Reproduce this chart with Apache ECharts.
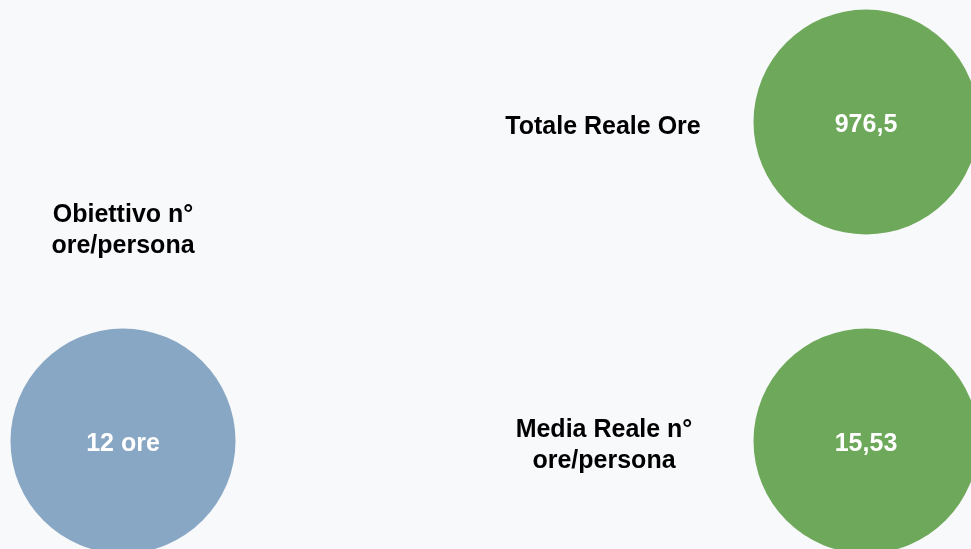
<!DOCTYPE html>
<html>
<head>
<meta charset="utf-8">
<script src="https://cdn.jsdelivr.net/npm/echarts@6/dist/echarts.min.js"></script>
<style>
  html, body { margin: 0; padding: 0; background: #f8f9fb; }
  #chart { width: 971px; height: 549px; }
</style>
</head>
<body>
<div id="chart"></div>
<script>
// KPI tiles: target vs actual hours
const columns = ['Obiettivo', 'Reale'];
const rows = ['Totale', 'Media'];
const kpiNames = ['Obiettivo n°\nore/persona', 'Totale Reale Ore', 'Media Reale n°\nore/persona'];
const kpiColumns = ['Obiettivo', 'Reale', 'Reale'];
const kpiRows = ['Media', 'Totale', 'Media'];
const kpiValues = [12, 976.5, 15.53];
const kpiUnits = [' ore', '', ''];
const kpiDecimals = [0, 1, 2];

const fmt = (v, d) => v.toFixed(d).replace('.', ',');

// circle fill and caption offset for each tile
const tileColors = ['#88a7c4', '#6ea85a', '#6ea85a'];
const captionOffsets = [[0, -210], [-263, 5], [-262, 5]];

const chart = echarts.init(document.getElementById('chart'), null, { renderer: 'canvas' });

const baseFont = 'Liberation Sans, Arial, Helvetica, sans-serif';

chart.setOption({
  backgroundColor: '#f8f9fb',
  animation: false,
  grid: { left: 123, right: 105, top: 122, bottom: 108 },
  xAxis: { type: 'category', data: columns, boundaryGap: false, show: false },
  yAxis: { type: 'category', data: rows, boundaryGap: false, inverse: true, show: false },
  series: [
    {
      type: 'scatter',
      symbol: 'circle',
      symbolSize: 225,
      silent: true,
      itemStyle: { opacity: 1 },
      data: kpiValues.map((v, i) => ({
        value: [kpiColumns[i], kpiRows[i], v],
        itemStyle: { color: tileColors[i], opacity: 1 }
      })),
      label: {
        show: true,
        position: 'inside',
        offset: [0, 3],
        color: '#ffffff',
        fontFamily: baseFont,
        fontWeight: 'bold',
        fontSize: 25,
        formatter: p => fmt(kpiValues[p.dataIndex], kpiDecimals[p.dataIndex]) + kpiUnits[p.dataIndex]
      }
    },
    {
      type: 'scatter',
      symbolSize: 0,
      silent: true,
      itemStyle: { opacity: 1 },
      data: kpiNames.map((n, i) => ({
        value: [kpiColumns[i], kpiRows[i]],
        label: { offset: captionOffsets[i] }
      })),
      label: {
        show: true,
        position: 'inside',
        color: '#000000',
        fontFamily: baseFont,
        fontWeight: 'bold',
        fontSize: 25,
        lineHeight: 31,
        align: 'center',
        formatter: p => kpiNames[p.dataIndex]
      }
    }
  ]
});
</script>
</body>
</html>
